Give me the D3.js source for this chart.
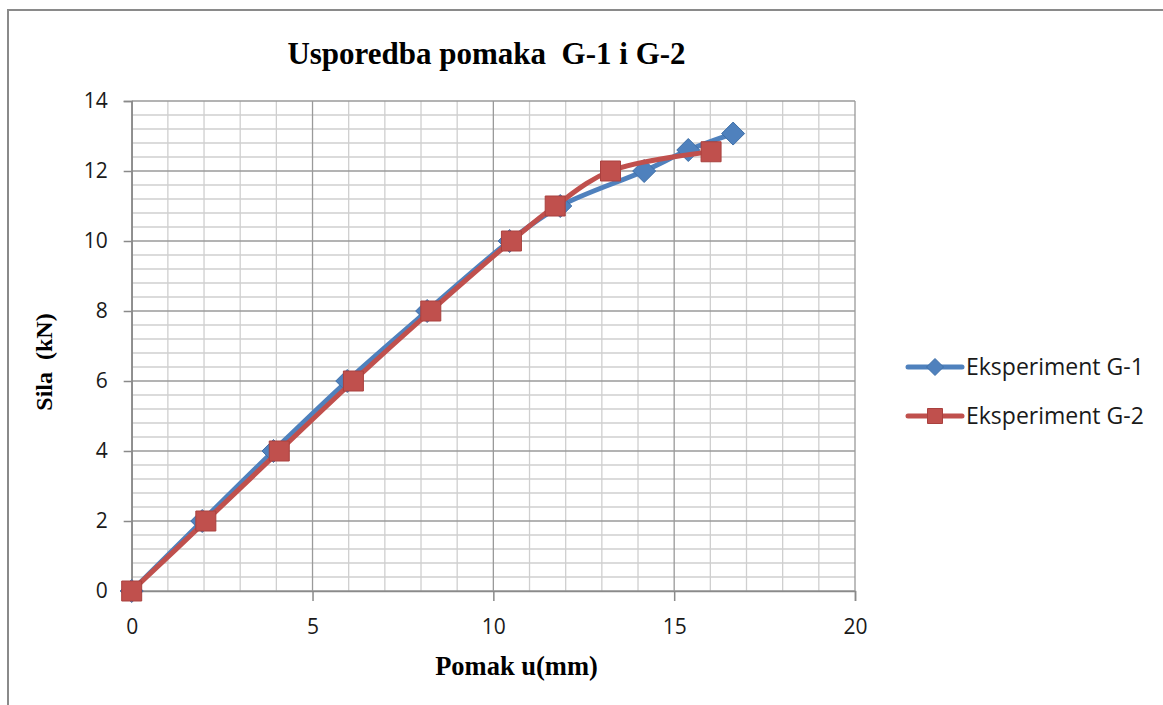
<!DOCTYPE html>
<html>
<head>
<meta charset="utf-8">
<script src="https://cdn.jsdelivr.net/npm/d3@7"></script>
<style>
  html, body { margin: 0; padding: 0; background: #fff; }
  svg { display: block; }
  .pre { white-space: pre; }
</style>
</head>
<body>
<svg id="chart" width="1163" height="705"></svg>
<script>
// Force vs. displacement for two test specimens
const seriesNames = ["Eksperiment G-1", "Eksperiment G-2"];
const g1Pomak = [0, 1.95, 3.92, 5.96, 8.17, 10.45, 11.85, 14.17, 15.39, 16.63];
const g1Sila  = [0, 2, 4, 6, 8, 10, 11, 12, 12.6, 13.07];
const g2Pomak = [0, 2.05, 4.08, 6.13, 8.27, 10.5, 11.71, 13.24, 16.02];
const g2Sila  = [0, 2, 4, 6, 8, 10, 11, 12, 12.55];
const xTicks = [0, 5, 10, 15, 20];
const yTicks = [0, 2, 4, 6, 8, 10, 12, 14];

const title = "Usporedba pomaka  G-1 i G-2";
const xTitle = "Pomak u(mm)";
const yTitle = "Sila  (kN)";

const colors = ["#4F81BD", "#C0504D"];
const strokes = ["#3F6FA8", "#A9413E"];

const svg = d3.select("#chart");

// outer chart frame
svg.append("rect")
  .attr("x", 8).attr("y", 10)
  .attr("width", 1300).attr("height", 900)
  .attr("fill", "#fff")
  .attr("stroke", "#8a8a8a").attr("stroke-width", 2);

const x = d3.scaleLinear().domain([0, 20]).range([131.7, 855]);
const y = d3.scaleLinear().domain([0, 14]).range([591, 101]);

const grid = svg.append("g");
// minor grid
const xMinor = d3.range(0, 21, 1).filter(v => v % 5 !== 0);
const yMinor = d3.range(0, 71).map(i => i * 0.2).filter((v, i) => i % 2 === 0 && i % 10 !== 0);
grid.selectAll(".vmin").data(xMinor).join("line")
  .attr("x1", d => x(d)).attr("x2", d => x(d))
  .attr("y1", y(14)).attr("y2", y(0))
  .attr("stroke", "#cfcfcf").attr("stroke-width", 1.3);
grid.selectAll(".hmin").data(yMinor).join("line")
  .attr("x1", x(0)).attr("x2", x(20))
  .attr("y1", d => y(d)).attr("y2", d => y(d))
  .attr("stroke", "#cfcfcf").attr("stroke-width", 1.3);
// major grid
grid.selectAll(".vmaj").data(xTicks).join("line")
  .attr("x1", d => x(d)).attr("x2", d => x(d))
  .attr("y1", y(14)).attr("y2", y(0))
  .attr("stroke", "#9a9a9a").attr("stroke-width", 1.3);
grid.selectAll(".hmaj").data(yTicks).join("line")
  .attr("x1", x(0)).attr("x2", x(20))
  .attr("y1", d => y(d)).attr("y2", d => y(d))
  .attr("stroke", "#9a9a9a").attr("stroke-width", 1.3);

// axes
const tickFont = "'Open Sans', sans-serif";
const yAxis = svg.append("g")
  .attr("transform", `translate(${x(0)},0)`)
  .call(d3.axisLeft(y).tickValues(yTicks).tickSize(8).tickPadding(16).tickFormat(d3.format("d")));
const xAxis = svg.append("g")
  .attr("transform", `translate(0,${y(0)})`)
  .call(d3.axisBottom(x).tickValues(xTicks).tickSize(10).tickPadding(18).tickFormat(d3.format("d")));
[xAxis, yAxis].forEach(a => {
  a.select(".domain").attr("stroke", "#8a8a8a").attr("stroke-width", 1.5);
  a.selectAll(".tick line").attr("stroke", "#8a8a8a").attr("stroke-width", 1.5);
  a.selectAll(".tick text")
    .attr("fill", "#1a1a1a")
    .style("font-family", tickFont)
    .style("font-size", "21px");
});

// series
const series = [
  { name: seriesNames[0], pts: g1Pomak.map((v, i) => [v, g1Sila[i]]), shape: "diamond" },
  { name: seriesNames[1], pts: g2Pomak.map((v, i) => [v, g2Sila[i]]), shape: "square" }
];

const line = d3.line()
  .x(d => x(d[0])).y(d => y(d[1]))
  .curve(d3.curveCatmullRom.alpha(0.5));

function markerPath(shape, s) {
  if (shape === "diamond") return `M0,${-s}L${s},0L0,${s}L${-s},0Z`;
  return `M${-s},${-s}H${s}V${s}H${-s}Z`;
}

series.forEach((sr, i) => {
  const g = svg.append("g");
  g.append("path")
    .datum(sr.pts)
    .attr("d", line)
    .attr("fill", "none")
    .attr("stroke", colors[i])
    .attr("stroke-width", 5)
    .attr("stroke-linejoin", "round")
    .attr("stroke-linecap", "round");
  g.selectAll("path.mk").data(sr.pts).join("path")
    .attr("class", "mk")
    .attr("transform", d => `translate(${x(d[0])},${y(d[1])})`)
    .attr("d", markerPath(sr.shape, sr.shape === "diamond" ? 11.5 : 10))
    .attr("fill", colors[i])
    .attr("stroke", strokes[i]).attr("stroke-width", 1);
});

// legend
const legend = svg.append("g");
const legendY = [367, 416];
series.forEach((sr, i) => {
  const ly = legendY[i];
  legend.append("line")
    .attr("x1", 908).attr("x2", 962).attr("y1", ly).attr("y2", ly)
    .attr("stroke", colors[i]).attr("stroke-width", 5).attr("stroke-linecap", "round");
  legend.append("path")
    .attr("transform", `translate(935,${ly})`)
    .attr("d", markerPath(sr.shape, sr.shape === "diamond" ? 8.5 : 7.5))
    .attr("fill", colors[i]).attr("stroke", strokes[i]).attr("stroke-width", 1);
  legend.append("text")
    .attr("x", 966).attr("y", ly)
    .attr("dy", "0.35em")
    .attr("fill", "#1a1a1a")
    .style("font-family", tickFont)
    .style("font-size", "23px")
    .text(sr.name);
});

// titles
const serif = "'Liberation Serif', 'Times New Roman', serif";
svg.append("text")
  .attr("class", "pre")
  .attr("x", 486.5).attr("y", 64)
  .attr("text-anchor", "middle")
  .style("font-family", serif).style("font-weight", "bold").style("font-size", "31px")
  .text(title);
svg.append("text")
  .attr("class", "pre")
  .attr("x", 516.5).attr("y", 675)
  .attr("text-anchor", "middle")
  .style("font-family", serif).style("font-weight", "bold").style("font-size", "26.5px")
  .text(xTitle);
svg.append("text")
  .attr("class", "pre")
  .attr("transform", "translate(52,362) rotate(-90)")
  .attr("text-anchor", "middle")
  .style("font-family", serif).style("font-weight", "bold").style("font-size", "24px")
  .text(yTitle);
</script>
</body>
</html>
